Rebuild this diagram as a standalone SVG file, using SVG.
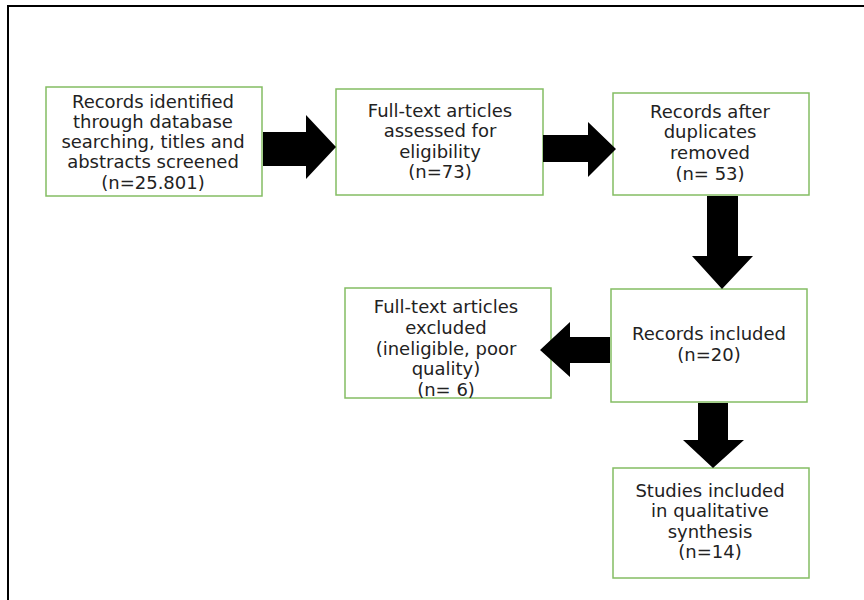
<svg xmlns="http://www.w3.org/2000/svg" width="864" height="600" viewBox="0 0 864 600">
<style>
.box{fill:#fff;stroke:#84bd63;stroke-width:1.5}
.t{font-family:"DejaVu Sans",Verdana,sans-serif;font-size:18px;fill:#222;text-anchor:middle}
.arr{fill:#000}
</style>
<defs>
<clipPath id="c1"><rect x="46" y="87" width="216" height="109"/></clipPath>
<clipPath id="c4"><rect x="345" y="288" width="206" height="110"/></clipPath>
</defs>
<rect width="864" height="600" fill="#fff"/>
<path d="M8,600 V6 H864" fill="none" stroke="#000" stroke-width="2"/>
<g id="n1">
<rect class="box" x="46" y="87" width="216" height="109"/>
<g clip-path="url(#c1)">
<text class="t" x="153" y="108">Records identified</text>
<text class="t" x="153" y="128">through database</text>
<text class="t" x="153" y="148">searching, titles and</text>
<text class="t" x="153" y="168">abstracts screened</text>
<text class="t" x="153" y="189">(n=25.801)</text>
</g>
</g>
<g id="n2">
<rect class="box" x="336" y="89" width="207" height="106"/>
<text class="t" x="440" y="117">Full-text articles</text>
<text class="t" x="440" y="137">assessed for</text>
<text class="t" x="440" y="158">eligibility</text>
<text class="t" x="440" y="178">(n=73)</text>
</g>
<g id="n3">
<rect class="box" x="613" y="93" width="196" height="102"/>
<text class="t" x="710" y="118">Records after</text>
<text class="t" x="710" y="138">duplicates</text>
<text class="t" x="710" y="159">removed</text>
<text class="t" x="710" y="180">(n= 53)</text>
</g>
<g id="n4">
<rect class="box" x="345" y="288" width="206" height="110"/>
<g clip-path="url(#c4)">
<text class="t" x="446" y="313">Full-text articles</text>
<text class="t" x="446" y="334">excluded</text>
<text class="t" x="446" y="355">(ineligible, poor</text>
<text class="t" x="446" y="375">quality)</text>
<text class="t" x="446" y="396">(n= 6)</text>
</g>
</g>
<g id="n5">
<rect class="box" x="611" y="289" width="196" height="113"/>
<text class="t" x="709" y="340">Records included</text>
<text class="t" x="709" y="361">(n=20)</text>
</g>
<g id="n6">
<rect class="box" x="613" y="468" width="196" height="110"/>
<text class="t" x="710" y="497">Studies included</text>
<text class="t" x="710" y="517">in qualitative</text>
<text class="t" x="710" y="538">synthesis</text>
<text class="t" x="710" y="558">(n=14)</text>
</g>
<g id="connectors">
<polygon class="arr" points="263,132 306,132 306,115 336,147 306,179 306,166 263,166"/>
<polygon class="arr" points="543,135 588,135 588,122 616,149 588,177 588,162 543,162"/>
<polygon class="arr" points="707,196 738,196 738,256 753,256 722,289 692,256 707,256"/>
<polygon class="arr" points="610,337 570,337 570,322 540,350 570,377 570,363 610,363"/>
<polygon class="arr" points="698,403 728,403 728,440 744,440 713,468 683,440 698,440"/>
</g>
</svg>
